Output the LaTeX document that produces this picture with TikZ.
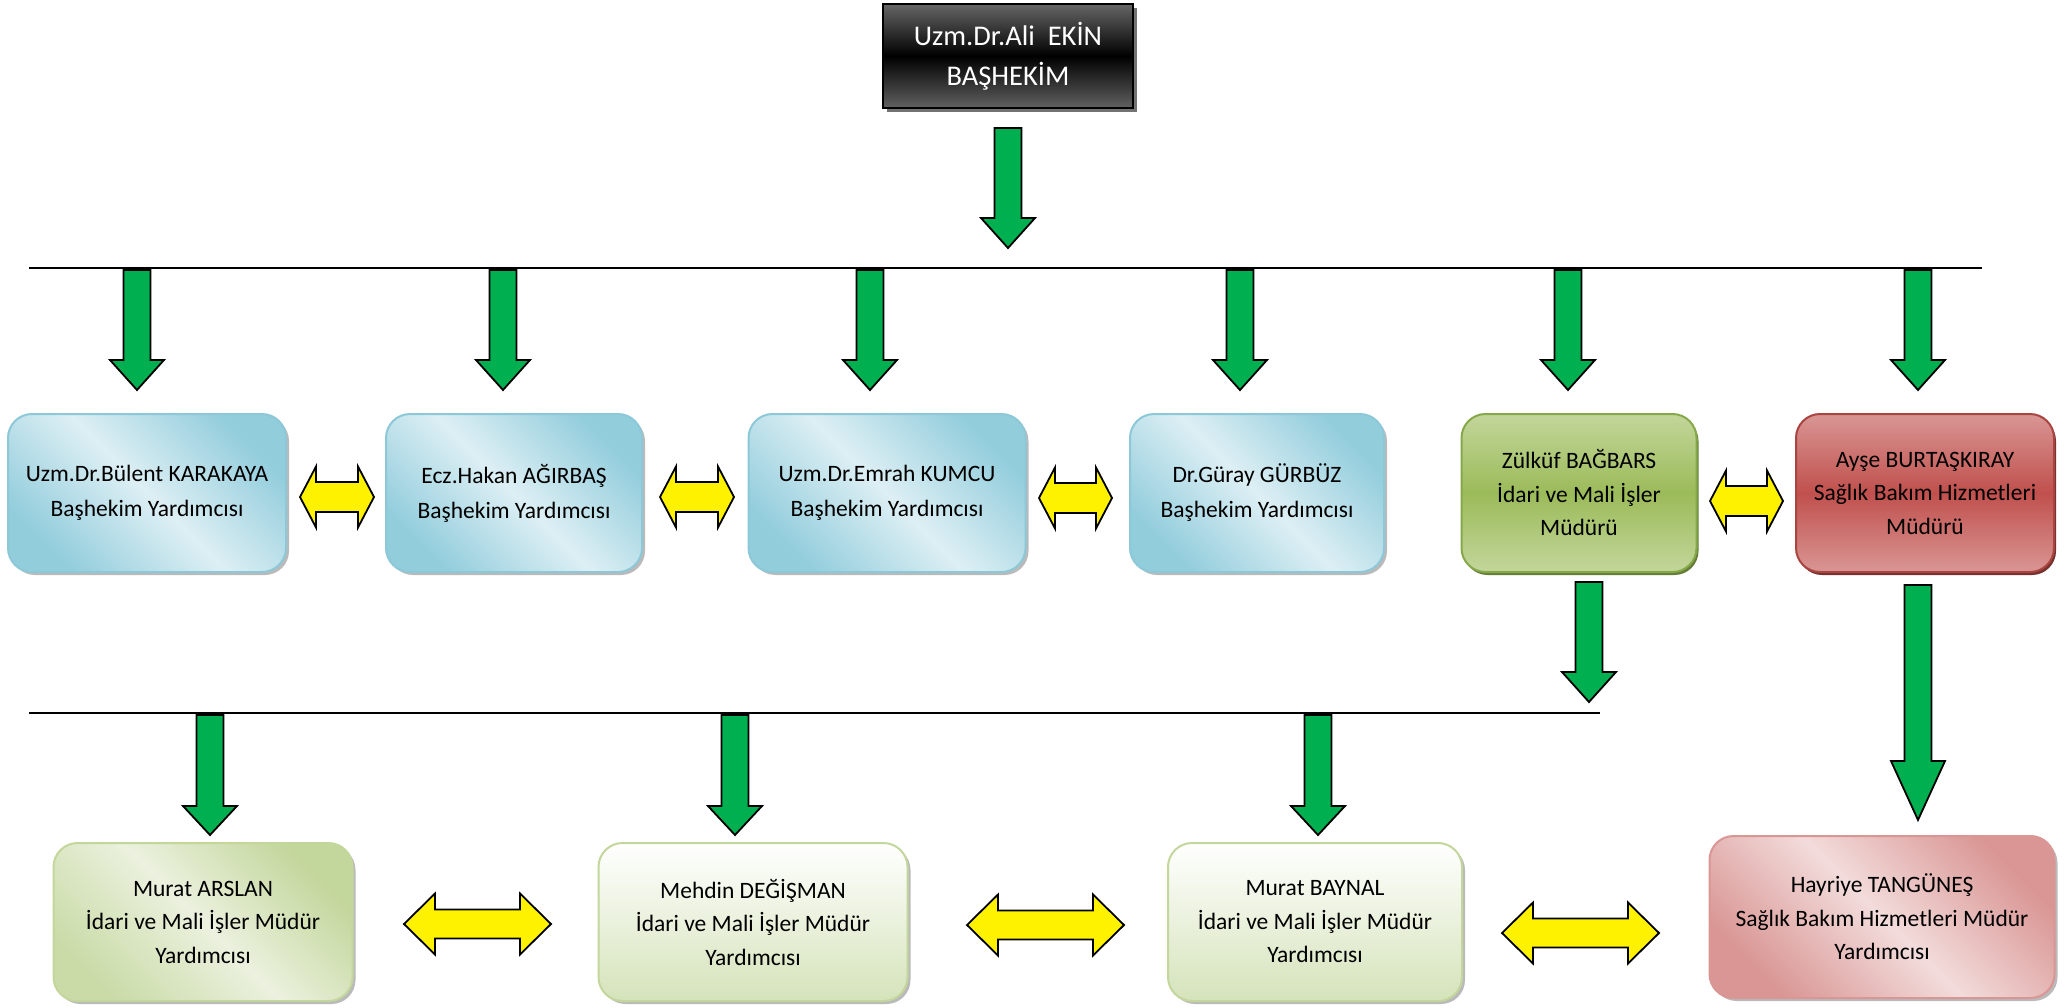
\documentclass[tikz,border=0pt]{standalone}
\usepackage{fontspec}
\setmainfont{Carlito}
\usetikzlibrary{shadows}
\definecolor{bluedk}{HTML}{92CDDC}
\definecolor{bluelt}{HTML}{DDEFF4}
\definecolor{bluebd}{HTML}{8CC8D8}
\definecolor{grnlt}{HTML}{C3D69B}
\definecolor{grnmd}{HTML}{9BBB59}
\definecolor{grnbd}{HTML}{86A84A}
\definecolor{grnvl}{HTML}{EBF1DE}
\definecolor{grnpl}{HTML}{D5E3BA}
\definecolor{redlt}{HTML}{D99694}
\definecolor{redmd}{HTML}{C0504D}
\definecolor{redbd}{HTML}{A94441}
\definecolor{redvl}{HTML}{F2DCDB}
\definecolor{arrgreen}{HTML}{00B050}
\tikzset{
  box/.style={rounded corners=24, minimum height=158, inner sep=0, align=center,
    font={\fontsize{23.5}{33.5}\selectfont}, line width=2},
  rowone/.style={font={\fontsize{23.5}{35}\selectfont}},
  grayshadow/.style={drop shadow={shadow xshift=3pt, shadow yshift=-3pt, fill=black!45, opacity=0.6}},
  bluebox/.style={box, rowone, grayshadow, draw=bluebd, top color=bluedk, bottom color=bluedk, middle color=bluelt, shading angle=-45},
  greenbox/.style={box, draw=grnbd, top color=grnlt, bottom color=grnlt, middle color=grnmd,
    drop shadow={shadow xshift=2pt, shadow yshift=-3pt, fill=grnbd!75!black, opacity=1}},
  redbox/.style={box, draw=redbd, top color=redlt, bottom color=redlt, middle color=redmd,
    drop shadow={shadow xshift=2pt, shadow yshift=-3pt, fill=redbd!70!black, opacity=1}},
  lgreendiag/.style={box, grayshadow, draw=grnlt, top color=grnlt, bottom color=grnlt!80!grnvl, middle color=grnvl, shading angle=-45},
  lgreenvert/.style={box, grayshadow, draw=grnlt, top color=white, bottom color=grnpl},
  lredbox/.style={box, grayshadow, draw=redlt, top color=redlt, bottom color=redlt, middle color=redvl, shading angle=-45},
  topbox/.style={draw=black, line width=2, top color=black!60, bottom color=black!62, middle color=black,
    minimum width=250, minimum height=104, inner sep=0, text=white, align=center,
    font={\fontsize{28.5}{40}\selectfont},
    drop shadow={shadow xshift=4pt, shadow yshift=-4pt, fill=black!55, opacity=1}},
  garr/.style={draw=black, line width=1.8, fill=arrgreen, line join=miter},
  yarr/.style={draw=black, line width=1.8, fill=yellow, line join=miter},
  hline/.style={draw=black, line width=2.5},
}
% cx, top, headstart, tip
\newcommand\DownArr[4]{%
  \draw[garr] ({#1-13.5},#2) -- ({#1+13.5},#2) -- ({#1+13.5},#3) -- ({#1+27},#3) -- (#1,#4)
    -- ({#1-27},#3) -- ({#1-13.5},#3) -- cycle;}
% x1, x2, cy, headlen, shafthalf
\newcommand\DblArr[5]{%
  \draw[yarr] (#1,#3) -- ({#1+#4},{#3-30.5}) -- ({#1+#4},{#3-#5}) -- ({#2-#4},{#3-#5})
    -- ({#2-#4},{#3-30.5}) -- (#2,#3) -- ({#2-#4},{#3+30.5}) -- ({#2-#4},{#3+#5})
    -- ({#1+#4},{#3+#5}) -- ({#1+#4},{#3+30.5}) -- cycle;}
\begin{document}
\begin{tikzpicture}[x=1pt, y=-1pt]
\useasboundingbox (0,0) rectangle (2069,1007);

% horizontal lines
\coordinate (l1a) at (29,268);
\coordinate (l1b) at (1982,268);
\coordinate (l2a) at (29,713);
\coordinate (l2b) at (1600,713);
\draw[hline] (l1a) -- (l1b);
\draw[hline] (l2a) -- (l2b);

% top box
\node[topbox] (top) at (1008,56) {Uzm.Dr.Ali~~EKİN\\BAŞHEKİM};

% row 1 boxes
\node[bluebox, minimum width=278] (b1) at (147,493) {Uzm.Dr.Bülent KARAKAYA\\Başhekim Yardımcısı};
\node[bluebox, minimum width=256] (b2) at (514,493) {Ecz.Hakan AĞIRBAŞ\\Başhekim Yardımcısı};
\node[bluebox, minimum width=277] (b3) at (887,493) {Uzm.Dr.Emrah KUMCU\\Başhekim Yardımcısı};
\node[bluebox, minimum width=254] (b4) at (1257,493) {Dr.Güray GÜRBÜZ\\Başhekim Yardımcısı};
\node[greenbox, minimum width=235] (b5) at (1579,493) {Zülküf BAĞBARS\\İdari ve Mali İşler\\Müdürü};
\node[redbox, minimum width=258] (b6) at (1925,493) {Ayşe BURTAŞKIRAY\\Sağlık Bakım Hizmetleri\\Müdürü};

% row 2 boxes
\node[lgreendiag, minimum width=299] (c1) at (203,922) {Murat ARSLAN\\İdari ve Mali İşler Müdür\\Yardımcısı};
\node[lgreenvert, minimum width=309] (c2) at (753,922) {Mehdin DEĞİŞMAN\\İdari ve Mali İşler Müdür\\Yardımcısı};
\node[lgreenvert, minimum width=294] (c3) at (1315,922) {Murat BAYNAL\\İdari ve Mali İşler Müdür\\Yardımcısı};
\node[lredbox, minimum width=345, minimum height=162] (c4) at (1882,917) {Hayriye TANGÜNEŞ\\Sağlık Bakım Hizmetleri Müdür\\Yardımcısı};

% green down arrows
\DownArr{1008}{128}{218}{248}
\DownArr{137}{270}{360}{390}
\DownArr{503}{270}{360}{390}
\DownArr{870}{270}{360}{390}
\DownArr{1240}{270}{360}{390}
\DownArr{1568}{270}{360}{390}
\DownArr{1918}{270}{360}{390}
\DownArr{1589}{582}{672}{702}
\DownArr{1918}{585}{761}{820}
\DownArr{210}{715}{806}{835}
\DownArr{735}{715}{806}{835}
\DownArr{1318}{715}{806}{835}

% yellow double arrows
\DblArr{300}{374}{497}{16}{15}
\DblArr{660}{734}{497}{16}{15}
\DblArr{1039}{1112}{498}{16}{15}
\DblArr{1710}{1783}{501}{16}{15}
\DblArr{404}{551}{924}{31}{14.5}
\DblArr{967}{1124}{925}{31}{14.5}
\DblArr{1502}{1659}{933}{31}{14.5}
\end{tikzpicture}
\end{document}
